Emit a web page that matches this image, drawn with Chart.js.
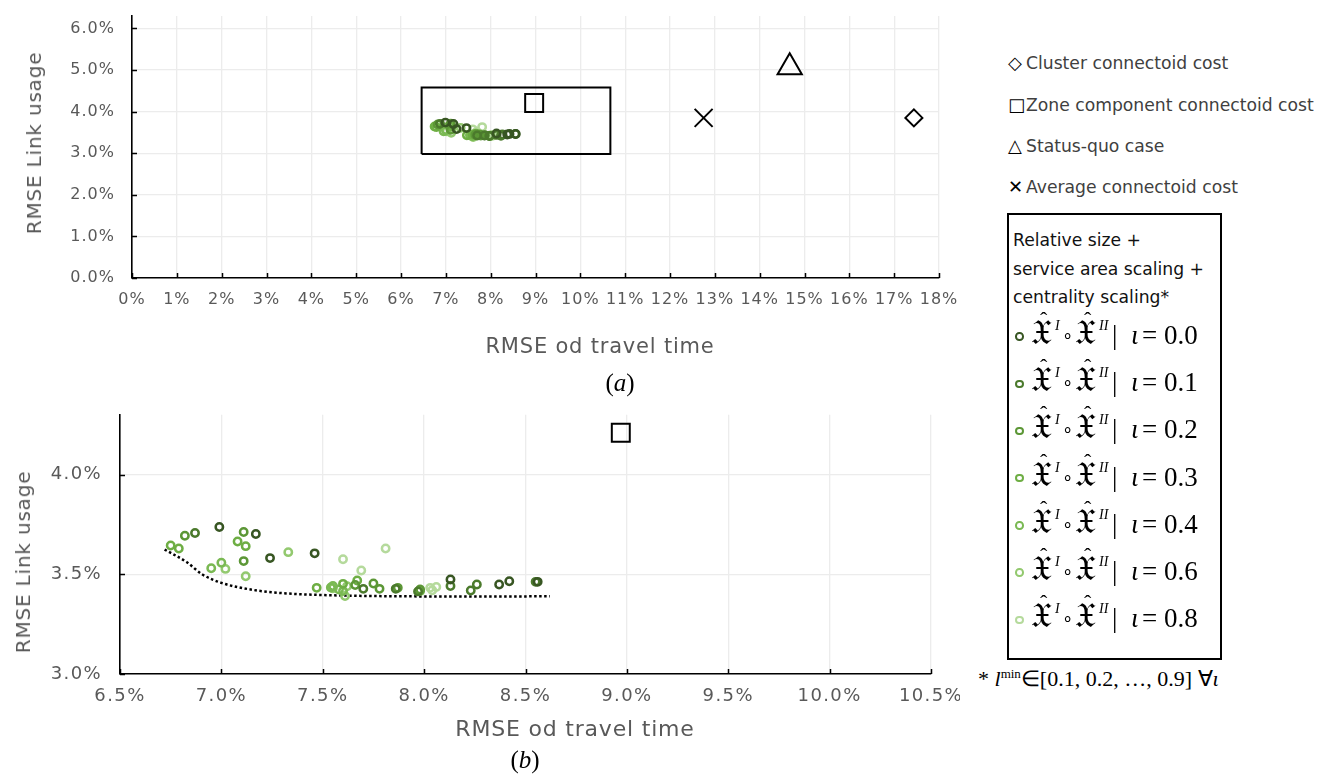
<!DOCTYPE html>
<html>
<head>
<meta charset="utf-8">
<script src="https://cdn.jsdelivr.net/npm/chart.js@4.4.1/dist/chart.umd.min.js"></script>
<style>
  html, body { margin: 0; padding: 0; background: #fff; }
  #page { position: relative; width: 1319px; height: 774px; overflow: hidden; font-family: "DejaVu Sans", sans-serif; }
  canvas { position: absolute; left: 0; }
  .ttl { position: absolute; color: #595959; font-size: 20px; white-space: nowrap; letter-spacing: 0.8px; }
  .cap { position: absolute; font-family: "Liberation Serif", serif; font-size: 25px; color: #000; white-space: nowrap; }
  .lg { position: absolute; color: #404040; font-size: 17.2px; white-space: nowrap; line-height: 20px; }
  .sym { position: absolute; color: #000; font-size: 18px; line-height: 20px; }
  #box { position: absolute; left: 1007px; top: 213px; width: 211px; height: 443px; border: 2px solid #000; }
  .bt { position: absolute; left: 1013px; color: #111; font-size: 17.2px; white-space: nowrap; line-height: 20px; }
  .row { position: absolute; left: 0; height: 34px; width: 1319px; font-family: "Liberation Serif", serif; font-size: 27px; line-height: 34px; }
  .row span { position: absolute; top: 0; white-space: nowrap; line-height: 34px; }
  .ring { position: absolute; width: 4.5px; height: 4.5px; border-radius: 50%; border: 2.5px solid; }
  .fx { font-family: "DejaVu Sans", serif; font-size: 34px; }
  .hat { font-size: 22px; }
  .sup { font-size: 14px; font-style: italic; }
  .note { position: absolute; left: 978px; top: 666px; font-family: "Liberation Serif", serif; font-size: 22px; white-space: nowrap; }
  .note sup { font-size: 13px; }
</style>
</head>
<body>
<div id="page">
  <canvas id="chartA" width="960" height="360" style="top:0"></canvas>
  <canvas id="chartB" width="960" height="374" style="top:400px"></canvas>

  <div class="ttl" style="left:34px; top:143px; transform: translate(-50%,-50%) rotate(-90deg);">RMSE Link usage</div>
  <div class="ttl" style="left:600px; top:346px; transform: translate(-50%,-50%); font-size:21px;">RMSE od travel time</div>
  <div class="cap" style="left:620px; top:383px; transform: translate(-50%,-50%);">(<i>a</i>)</div>

  <div class="ttl" style="left:23px; top:562px; transform: translate(-50%,-50%) rotate(-90deg);">RMSE Link usage</div>
  <div class="ttl" style="left:575px; top:728px; transform: translate(-50%,-50%); font-size:22px;">RMSE od travel time</div>
  <div class="cap" style="left:525px; top:760px; transform: translate(-50%,-50%);">(<i>b</i>)</div>

  <div id="legendTop"></div>
  <div id="box"></div>
  <div class="bt" style="top:230px">Relative size +</div>
  <div class="bt" style="top:259px">service area scaling +</div>
  <div class="bt" style="top:287px">centrality scaling*</div>
  <div id="legendRows"></div>
  <div class="note">* <i>l</i><sup>min</sup>∈[0.1, 0.2, …, 0.9] ∀<i>ι</i></div>
</div>

<script>
// Values are in percent: x = RMSE od travel time, y = RMSE link usage.
const iotaLabels = ['0.0', '0.1', '0.2', '0.3', '0.4', '0.6', '0.8'];
const iotaColors = ['#385623', '#4b7a2c', '#5c9736', '#6eae44', '#7ab953', '#93c96f', '#b5da9c'];

const odTime_i00 = [6.99, 7.17, 7.46, 7.24, 8.13, 8.42, 8.56, 8.37];
const link_i00   = [3.737, 3.702, 3.605, 3.581, 3.474, 3.465, 3.462, 3.449];
const odTime_i01 = [6.87, 8.26, 8.55, 8.23, 8.13, 7.97, 7.70, 7.86];
const link_i01   = [3.707, 3.449, 3.462, 3.419, 3.441, 3.414, 3.427, 3.427];
const odTime_i02 = [6.82, 7.11, 7.11, 7.98, 7.87, 7.78, 7.66, 7.75];
const link_i02   = [3.693, 3.712, 3.566, 3.424, 3.432, 3.427, 3.446, 3.454];
const odTime_i03 = [6.75, 6.79, 7.08, 7.12, 7.67, 7.47, 7.60, 7.98];
const link_i03   = [3.644, 3.629, 3.664, 3.641, 3.469, 3.432, 3.452, 3.416];
const odTime_i04 = [6.95, 7.00, 7.54, 7.55, 7.58, 7.60];
const link_i04   = [3.530, 3.558, 3.434, 3.441, 3.424, 3.416];
const odTime_i06 = [7.02, 7.12, 7.33, 7.61, 7.55, 7.62];
const link_i06   = [3.527, 3.490, 3.611, 3.391, 3.430, 3.440];
const odTime_i08 = [7.60, 7.81, 7.69, 8.03, 8.06, 8.04];
const link_i08   = [3.575, 3.629, 3.519, 3.432, 3.436, 3.420];

const seriesOdTime = [odTime_i00, odTime_i01, odTime_i02, odTime_i03, odTime_i04, odTime_i06, odTime_i08];
const seriesLink   = [link_i00, link_i01, link_i02, link_i03, link_i04, link_i06, link_i08];

// Reference cases
const caseNames  = ['Cluster connectoid cost', 'Zone component connectoid cost', 'Status-quo case', 'Average connectoid cost'];
const caseOdTime = [17.44, 8.97, 14.67, 12.75];
const caseLink   = [3.85, 4.21, 5.07, 3.85];

// Outline of the detail window shown in panel (b)
const windowOdTime = [6.46, 10.67, 10.67, 6.46, 6.46];
const windowLink   = [2.98, 2.98, 4.58, 4.58, 2.98];

// Lower envelope of the scaling runs
const frontierOdTime = [6.72, 6.83, 6.905, 7.0, 7.16, 7.32, 7.57, 7.98, 8.3, 8.62];
const frontierLink   = [3.624, 3.56, 3.50, 3.457, 3.421, 3.404, 3.394, 3.389, 3.388, 3.39];

// Axis ticks
const ticksA_x = [0,1,2,3,4,5,6,7,8,9,10,11,12,13,14,15,16,17,18];
const ticksA_y = [0,1,2,3,4,5,6];
const ticksB_x = [6.5,7.0,7.5,8.0,8.5,9.0,9.5,10.0,10.5];
const ticksB_y = [3.0,3.5,4.0];

const pts = (xs, ys) => xs.map((x, i) => ({ x, y: ys[i] }));

// Short tick marks pointing into the plot from both axes
const innerTicks = {
  id: 'innerTicks',
  beforeDraw(chart) { chart.ctx.letterSpacing = chart.options.plugins.innerTicks.spacing; },
  afterDraw(chart) {
    const { ctx, chartArea: a, scales: { x, y } } = chart;
    ctx.save();
    ctx.strokeStyle = '#000';
    ctx.lineWidth = 1.5;
    ctx.beginPath();
    x.ticks.forEach(t => { const p = Math.round(x.getPixelForValue(t.value)) + 0.5; ctx.moveTo(p, a.bottom); ctx.lineTo(p, a.bottom - 5); });
    y.ticks.forEach(t => { const p = Math.round(y.getPixelForValue(t.value)) + 0.5; ctx.moveTo(a.left, p); ctx.lineTo(a.left + 5, p); });
    ctx.stroke();
    ctx.restore();
  }
};

function greenSets() {
  return iotaLabels.map((lab, i) => ({
    label: 'ι = ' + lab,
    data: pts(seriesOdTime[i], seriesLink[i]),
    borderColor: iotaColors[i],
    backgroundColor: 'rgba(0,0,0,0)',
    pointRadius: 3.7,
    pointBorderWidth: 2.5,
    showLine: false
  }));
}

function caseSet(k, style, radius) {
  return {
    label: caseNames[k],
    data: [{ x: caseOdTime[k], y: caseLink[k] }],
    pointStyle: style,
    pointRadius: radius,
    pointBorderWidth: 2,
    borderColor: '#000',
    backgroundColor: 'rgba(0,0,0,0)',
    showLine: false
  };
}

function axis(min, max, tickList, fmt, opts) {
  return {
    type: 'linear', min, max,
    afterBuildTicks: s => { s.ticks = tickList.map(v => ({ value: v })); },
    afterFit: s => {
      opts.fit(s);
      s.paddingTop = 0; s.paddingBottom = 0; s.paddingLeft = 0; s.paddingRight = 0;
    },
    ticks: { callback: fmt, color: '#595959', font: { family: 'DejaVu Sans', size: opts.size }, padding: opts.pad, autoSkip: false, maxRotation: 0 },
    grid: { color: '#ececec', lineWidth: 1.3, drawTicks: false },
    border: { color: '#000', width: 1.6 }
  };
}

// Nudge the layout padding until the plot area sits on the wanted frame
function placeArea(chart, target) {
  for (let k = 0; k < 3; k++) {
    const a = chart.chartArea, p = chart.options.layout.padding;
    p.top += target.top - a.top;
    p.right += a.right - target.right;
    p.left += target.left - a.left;
    p.bottom += a.bottom - target.bottom;
    chart.update();
  }
}

Chart.defaults.animation = false;

const chartA = new Chart(document.getElementById('chartA'), {
  type: 'scatter',
  data: {
    datasets: [
      ...greenSets(),
      caseSet(0, 'rectRot', 8.5),
      caseSet(1, 'rect', 12.7),
      caseSet(2, 'triangle', 14),
      caseSet(3, 'crossRot', 12.7),
      { label: 'window', data: pts(windowOdTime, windowLink), showLine: true, borderColor: '#000', borderWidth: 2, pointRadius: 0, fill: false }
    ]
  },
  options: {
    responsive: false,
    layout: { padding: { top: 16, right: 21, left: 0, bottom: 0 } },
    plugins: { legend: { display: false }, tooltip: { enabled: false }, innerTicks: { spacing: '1px' } },
    scales: {
      x: axis(0, 18, ticksA_x, v => v + '%', { size: 16, pad: 12, fit: s => { s.height = 82; } }),
      y: axis(0, 6.3, ticksA_y, v => v.toFixed(1) + '%', { size: 16, pad: 17, fit: s => { s.width = 132; } })
    }
  },
  plugins: [innerTicks]
});
placeArea(chartA, { left: 132, right: 939, top: 16, bottom: 278 });

const chartB = new Chart(document.getElementById('chartB'), {
  type: 'scatter',
  data: {
    datasets: [
      ...greenSets(),
      caseSet(1, 'rect', 12.7),
      { label: 'frontier', data: pts(frontierOdTime, frontierLink), showLine: true, borderColor: '#000', borderWidth: 2.5, borderDash: [2.5, 2.5], pointRadius: 0, cubicInterpolationMode: 'monotone', fill: false }
    ]
  },
  options: {
    responsive: false,
    layout: { padding: { top: 12, right: 29, left: 0, bottom: 0 } },
    plugins: { legend: { display: false }, tooltip: { enabled: false }, innerTicks: { spacing: '1.4px' } },
    scales: {
      x: axis(6.5, 10.5, ticksB_x, v => v.toFixed(1) + '%', { size: 18, pad: 12, fit: s => { s.height = 100; } }),
      y: axis(3.0, 4.3, ticksB_y, v => v.toFixed(1) + '%', { size: 18, pad: 18, fit: s => { s.width = 120; } })
    }
  },
  plugins: [innerTicks]
});
placeArea(chartB, { left: 120, right: 931, top: 12, bottom: 274 });

// Legend: reference cases
const caseSymbols = ['◇', '□', '△', '✕'];
const caseRowY = [63, 105, 146, 187];
const lt = document.getElementById('legendTop');
caseNames.forEach((name, k) => {
  lt.insertAdjacentHTML('beforeend',
    `<div class="sym" style="left:1008px; top:${caseRowY[k] - 10}px">${caseSymbols[k]}</div>` +
    `<div class="lg" style="left:1026px; top:${caseRowY[k] - 10}px">${name}</div>`);
});

// Legend: scaling runs
const rows = document.getElementById('legendRows');
iotaLabels.forEach((lab, i) => {
  const yc = 337 + i * 47.2;
  rows.insertAdjacentHTML('beforeend',
    `<div class="ring" style="left:${1020 - 4.7}px; top:${yc - 4.7}px; border-color:${iotaColors[i]}"></div>` +
    `<div class="row" style="top:${yc - 19}px">` +
      `<span class="fx" style="left:1031px; top:-3px">𝔛</span><span class="hat" style="left:1040px; top:-15px">ˆ</span>` +
      `<span class="sup" style="left:1055px; top:-9px">I</span>` +
      `<span style="left:1062px; font-size:18px">∘</span>` +
      `<span class="fx" style="left:1075px; top:-3px">𝔛</span><span class="hat" style="left:1084px; top:-15px">ˆ</span>` +
      `<span class="sup" style="left:1099px; top:-9px">II</span>` +
      `<span style="left:1112px">|</span>` +
      `<span style="left:1131px; font-style:italic">ι</span>` +
      `<span style="left:1142px">=</span>` +
      `<span style="left:1164px">${lab}</span>` +
    `</div>`);
});
</script>
</body>
</html>
